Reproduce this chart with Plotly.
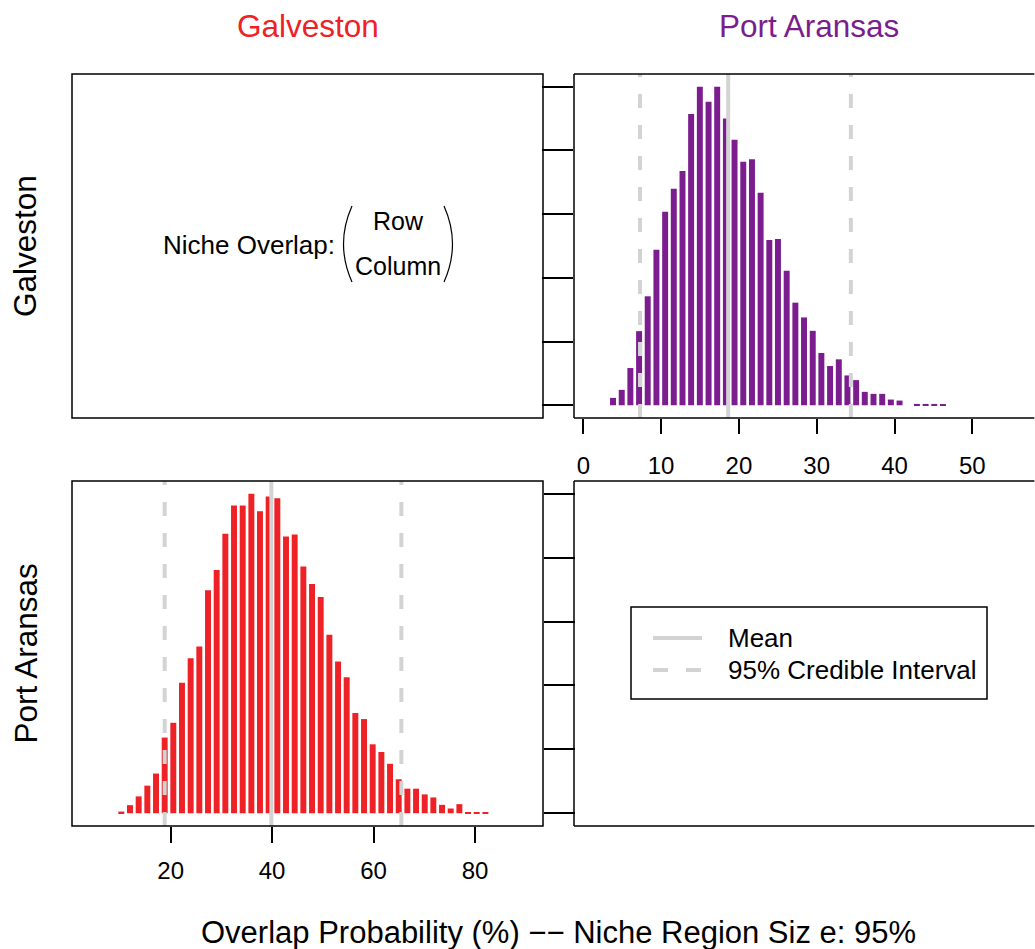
import plotly.graph_objects as go

W, H = 1035, 949

# ---------------- data ----------------
# Row "Galveston" / column "Port Aransas": overlap probability histogram (%)
pa_bins = [3.82, 4.94, 6.05, 7.17, 8.28, 9.40, 10.52, 11.63, 12.75, 13.86,
           14.98, 16.10, 17.21, 18.33, 19.44, 20.56, 21.68, 22.79, 23.91, 25.02,
           26.14, 27.26, 28.37, 29.49, 30.60, 31.72, 32.84, 33.95, 35.07, 36.18,
           37.30, 38.42, 39.53, 40.65, 41.76, 42.88, 44.00, 45.11, 46.23]
pa_heights = [22, 46, 111, 221, 325, 464, 577, 646, 699, 869,
              950, 905, 950, 855, 792, 726, 734, 634, 493, 496,
              401, 306, 262, 222, 156, 117, 137, 89, 75, 40,
              34, 34, 17, 14, 0, 4, 4, 4, 2]
pa_mean = 18.62
pa_ci = [7.29, 34.39]

# Row "Port Aransas" / column "Galveston"
gal_bins = [10.27, 11.98, 13.69, 15.40, 17.11, 18.82, 20.52, 22.23, 23.94, 25.65,
            27.36, 29.07, 30.78, 32.49, 34.20, 35.91, 37.61, 39.32, 41.03, 42.74,
            44.45, 46.16, 47.87, 49.58, 51.29, 53.00, 54.70, 56.41, 58.12, 59.83,
            61.54, 63.25, 64.96, 66.67, 68.38, 70.09, 71.79, 73.50, 75.21, 76.92,
            78.63, 80.34, 82.05]
gal_heights = [5, 24, 50, 82, 118, 225, 269, 388, 461, 496,
               663, 723, 831, 915, 915, 950, 898, 942, 937, 823,
               829, 734, 682, 643, 531, 451, 404, 298, 280, 205,
               182, 147, 101, 73, 73, 56, 47, 25, 14, 27,
               2, 2, 2]
gal_mean = 39.85
gal_ci = [18.82, 65.48]

col_titles = ["Galveston", "Port Aransas"]
col_colors = ["#EE2226", "#7B1D8E"]
row_titles = ["Galveston", "Port Aransas"]
tr_ticks = [0, 10, 20, 30, 40, 50]
bl_ticks = [20, 40, 60, 80]
legend_labels = ["Mean", "95% Credible Interval"]
niche_label = "Niche Overlap:"
niche_rows = ["Row", "Column"]
bottom_title = "Overlap Probability (%) \u2212\u2212 Niche Region Siz e: 95%"

FONT = "Liberation Sans, Arial, sans-serif"
LINE_GREY = "#D3D3D3"
DASH = "14px,17px"
TITLE_SIZE = 31.5
TEXT_SIZE = 26


def fx(p):
    return p / W


def fy(p):
    return 1 - p / H


# panel pixel boxes (left, top, right, bottom)
TL = (72, 74, 543, 418)
TR = (574, 74, 1035, 418)
BL = (72, 481, 543, 826)
BR = (574, 481, 1035, 826)

pa_max = max(pa_heights)
gal_max = max(gal_heights)

fig = go.Figure()

# histogram bars
fig.add_trace(go.Bar(x=pa_bins, y=pa_heights, marker=dict(color=col_colors[1], line=dict(width=0)),
                     xaxis="x2", yaxis="y2", showlegend=False, hoverinfo="skip"))
fig.add_trace(go.Bar(x=gal_bins, y=gal_heights, marker=dict(color=col_colors[0], line=dict(width=0)),
                     xaxis="x3", yaxis="y3", showlegend=False, hoverinfo="skip"))

# mean / credible interval lines
pa_lo, pa_hi = -0.04 * pa_max, 1.04 * pa_max
gal_lo, gal_hi = -0.04 * gal_max, 1.04 * gal_max
fig.add_trace(go.Scatter(x=[pa_mean, pa_mean], y=[pa_lo, pa_hi], mode="lines",
                         line=dict(color=LINE_GREY, width=4), xaxis="x2", yaxis="y2",
                         showlegend=False, hoverinfo="skip"))
for v in pa_ci:
    fig.add_trace(go.Scatter(x=[v, v], y=[pa_lo, pa_hi], mode="lines",
                             line=dict(color=LINE_GREY, width=4, dash=DASH), xaxis="x2", yaxis="y2",
                             showlegend=False, hoverinfo="skip"))
fig.add_trace(go.Scatter(x=[gal_mean, gal_mean], y=[gal_lo, gal_hi], mode="lines",
                         line=dict(color=LINE_GREY, width=4), xaxis="x3", yaxis="y3",
                         showlegend=False, hoverinfo="skip"))
for v in gal_ci:
    fig.add_trace(go.Scatter(x=[v, v], y=[gal_lo, gal_hi], mode="lines",
                             line=dict(color=LINE_GREY, width=4, dash=DASH), xaxis="x3", yaxis="y3",
                             showlegend=False, hoverinfo="skip"))

tickfont = dict(family=FONT, size=24, color="black")

# x range for the top-right panel: 0 at px 583.3, 7.78 px per unit
tr_x0 = (TR[0] - 583.3) / 7.78
tr_x1 = (1035 - 583.3) / 7.78
# bottom-left: 0 at px 69.23, 5.072 px per unit
bl_x0 = (BL[0] - 69.23) / 5.072
bl_x1 = (BL[2] - 69.23) / 5.072

fig.update_layout(
    width=W, height=H,
    margin=dict(l=0, r=0, t=0, b=0),
    paper_bgcolor="white", plot_bgcolor="rgba(0,0,0,0)",
    bargap=0.31,
    showlegend=False,
    font=dict(family=FONT, color="black"),
    xaxis=dict(domain=[fx(TL[0]), fx(TL[2])], anchor="y", visible=False, range=[0, 1]),
    yaxis=dict(domain=[fy(TL[3]), fy(TL[1])], anchor="x", visible=False, range=[0, 1]),
    xaxis2=dict(domain=[fx(TR[0]), 1.0], anchor="y2", range=[tr_x0, tr_x1],
                tickmode="array", tickvals=tr_ticks, ticktext=[str(t) for t in tr_ticks],
                ticks="outside", ticklen=15, tickwidth=1.5, tickcolor="black",
                showgrid=False, zeroline=False, showline=False,
                tickfont=tickfont, ticklabelstandoff=11),
    yaxis2=dict(domain=[fy(TR[3]), fy(TR[1])], anchor="x2", range=[pa_lo, pa_hi],
                tickmode="array", tickvals=[pa_max * k / 5 for k in range(6)],
                ticks="outside", ticklen=31, tickwidth=1.5, tickcolor="black",
                showticklabels=False, showgrid=False, zeroline=False, showline=False),
    xaxis3=dict(domain=[fx(BL[0]), fx(BL[2])], anchor="y3", range=[bl_x0, bl_x1],
                tickmode="array", tickvals=bl_ticks, ticktext=[str(t) for t in bl_ticks],
                ticks="outside", ticklen=16, tickwidth=1.5, tickcolor="black",
                showgrid=False, zeroline=False, showline=False,
                tickfont=tickfont, ticklabelstandoff=7),
    yaxis3=dict(domain=[fy(BL[3]), fy(BL[1])], anchor="x3", range=[gal_lo, gal_hi], side="right",
                tickmode="array", tickvals=[gal_max * k / 5 for k in range(6)],
                ticks="outside", ticklen=31, tickwidth=1.5, tickcolor="black",
                showticklabels=False, showgrid=False, zeroline=False, showline=False),
    xaxis4=dict(domain=[fx(BR[0]), 1.0], anchor="y4", visible=False, range=[0, 1]),
    yaxis4=dict(domain=[fy(BR[3]), fy(BR[1])], anchor="x4", visible=False, range=[0, 1]),
)

shapes = []
box_line = dict(color="black", width=1.5)
for (l, t, r, b) in (TL, BL):
    shapes.append(dict(type="rect", xref="paper", yref="paper",
                       x0=fx(l), x1=fx(r), y0=fy(b), y1=fy(t), line=box_line))
# right-hand panels run past the page edge: only top, left and bottom sides are visible
EDGE = 1034.4
for (l, t, r, b) in (TR, BR):
    shapes.append(dict(type="line", xref="paper", yref="paper",
                       x0=fx(l), x1=fx(EDGE), y0=fy(t), y1=fy(t), line=box_line))
    shapes.append(dict(type="line", xref="paper", yref="paper",
                       x0=fx(l), x1=fx(EDGE), y0=fy(b), y1=fy(b), line=box_line))
    shapes.append(dict(type="line", xref="paper", yref="paper",
                       x0=fx(l), x1=fx(l), y0=fy(b), y1=fy(t), line=box_line))

# parentheses around Row / Column
lp = f"M {fx(352)},{fy(206)} Q {fx(335)},{fy(244)} {fx(352)},{fy(282)}"
rp = f"M {fx(444)},{fy(206)} Q {fx(461)},{fy(244)} {fx(444)},{fy(282)}"
for p in (lp, rp):
    shapes.append(dict(type="path", xref="paper", yref="paper", path=p,
                       line=dict(color="black", width=1.2)))

# legend in the bottom-right panel
shapes.append(dict(type="rect", xref="paper", yref="paper",
                   x0=fx(631), x1=fx(987), y0=fy(699), y1=fy(607), line=box_line))
shapes.append(dict(type="line", xref="paper", yref="paper",
                   x0=fx(653), x1=fx(702), y0=fy(638), y1=fy(638),
                   line=dict(color=LINE_GREY, width=4)))
shapes.append(dict(type="line", xref="paper", yref="paper",
                   x0=fx(653), x1=fx(702), y0=fy(670), y1=fy(670),
                   line=dict(color=LINE_GREY, width=4, dash="15px,18px")))

fig.update_layout(shapes=shapes)


def text_ann(x, y, text, size, color="black", xanchor="center", angle=0):
    return dict(x=fx(x), y=fy(y), text=text, showarrow=False, xref="paper", yref="paper",
                xanchor=xanchor, yanchor="middle", textangle=angle,
                font=dict(family=FONT, size=size, color=color))


ann = [
    text_ann((TL[0] + TL[2]) / 2, 26, col_titles[0], TITLE_SIZE, col_colors[0]),
    text_ann((574 + 1044) / 2, 26, col_titles[1], TITLE_SIZE, col_colors[1]),
    text_ann(25, (TL[1] + TL[3]) / 2, row_titles[0], TITLE_SIZE, angle=-90),
    text_ann(25, (BL[1] + BL[3]) / 2, row_titles[1], TITLE_SIZE, angle=-90),
    text_ann(337, 245, niche_label, TEXT_SIZE, xanchor="right"),
    text_ann(398, 221, niche_rows[0], 25),
    text_ann(398, 266, niche_rows[1], 25),
    text_ann(726, 638, legend_labels[0], TEXT_SIZE, xanchor="left"),
    text_ann(726, 670, legend_labels[1], TEXT_SIZE, xanchor="left"),
    text_ann(558, 932, bottom_title, 31),
]

fig.update_layout(annotations=ann)

fig.write_html("out.html")
